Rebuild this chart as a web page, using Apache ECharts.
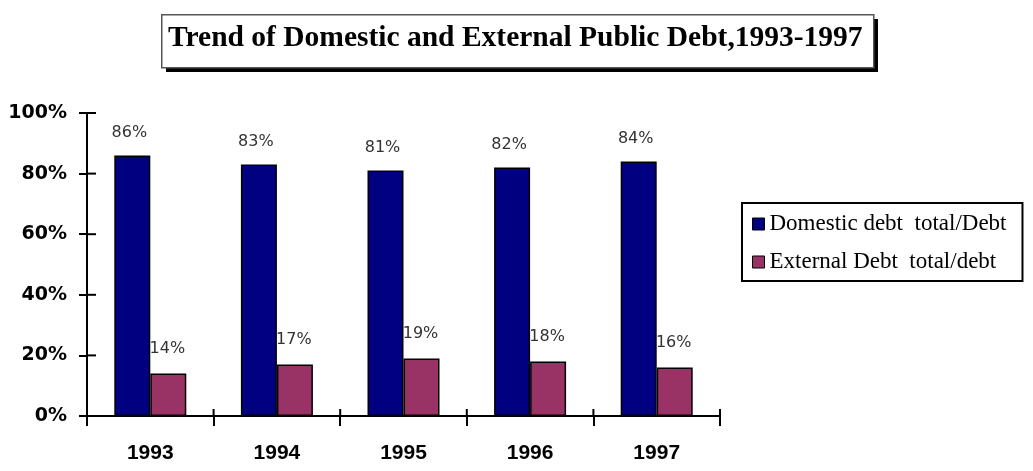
<!DOCTYPE html>
<html>
<head>
<meta charset="utf-8">
<style>
  html, body { margin: 0; padding: 0; background: #fff; }
  #chart { width: 1033px; height: 471px; }
</style>
<script src="https://cdn.jsdelivr.net/npm/echarts@6/dist/echarts.min.js"></script>
</head>
<body>
<div id="chart"></div>
<script>
// Share of public debt, 1993-1997
const years = ['1993', '1994', '1995', '1996', '1997'];
const domesticShare = [86, 83, 81, 82, 84];
const externalShare = [14, 17, 19, 18, 16];
const seriesNames = ['Domestic debt  total/Debt', 'External Debt  total/debt'];
const titleText = 'Trend of Domestic and External Public Debt,1993-1997';
const yTickValues = [0, 20, 40, 60, 80, 100];

const chart = echarts.init(document.getElementById('chart'), null, { renderer: 'canvas' });

const labelFont = { fontFamily: 'DejaVu Sans, sans-serif', fontSize: 16, color: '#333' };
const axisStroke = { color: '#000', width: 2 };

const titleGraphics = [
  // boxed title with a hard drop shadow
  { id: 'titleShadow', type: 'rect', left: 166, top: 19, shape: { width: 712, height: 53 }, style: { fill: '#000' }, z: 10 },
  { id: 'titleBox', type: 'rect', left: 161, top: 14, shape: { width: 712, height: 53 }, style: { fill: '#fff', stroke: '#555', lineWidth: 1.5 }, z: 11 },
  {
    id: 'titleText', type: 'text', left: 168, top: 23, z: 12,
    style: {
      text: titleText,
      fill: '#000',
      font: 'bold 29.5px "Liberation Serif", "Times New Roman", serif'
    }
  }
];

const option = {
  animation: false,
  backgroundColor: '#ffffff',
  graphic: titleGraphics,
  legend: {
    orient: 'vertical',
    left: 742,
    top: 203,
    padding: [8, 16, 6, 10],
    borderColor: '#000',
    borderWidth: 2,
    itemWidth: 12,
    itemHeight: 12,
    itemGap: 12,
    icon: 'rect',
    itemStyle: { borderColor: '#000', borderWidth: 1 },
    textStyle: { fontFamily: 'Liberation Serif, Times New Roman, serif', fontSize: 23, color: '#000', lineHeight: 26 },
    data: seriesNames
  },
  grid: { left: 87, right: 313, top: 113, bottom: 55 },
  xAxis: {
    type: 'category',
    data: years,
    axisLine: { lineStyle: axisStroke },
    axisTick: { show: true, length: 10, lineStyle: axisStroke },
    axisLabel: { margin: 27, color: '#000', fontFamily: 'Liberation Sans Narrow, Liberation Sans, sans-serif', fontWeight: 'bold', fontSize: 21 }
  },
  yAxis: {
    type: 'value',
    min: 0, max: 100, interval: 20,
    splitLine: { show: false },
    axisLine: { show: true, lineStyle: axisStroke },
    axisTick: { show: true, length: 8, lineStyle: axisStroke },
    axisLabel: { formatter: '{value}%', margin: 20, color: '#000', fontFamily: 'DejaVu Sans, sans-serif', fontWeight: 'bold', fontSize: 19 }
  },
  series: [
    {
      name: seriesNames[0],
      type: 'bar',
      data: domesticShare,
      barWidth: 36,
      barGap: '0%',
      itemStyle: { color: '#000080', borderColor: '#000', borderWidth: 1.5 },
      label: Object.assign({ show: true, position: 'top', distance: 15, offset: [-3, 0], formatter: '{c}%' }, labelFont)
    },
    {
      name: seriesNames[1],
      type: 'bar',
      data: externalShare,
      barWidth: 36,
      barGap: '0%',
      itemStyle: { color: '#993366', borderColor: '#000', borderWidth: 1.5 },
      label: Object.assign({ show: true, position: 'top', distance: 17, offset: [-1, 0], formatter: '{c}%' }, labelFont)
    }
  ]
};

chart.setOption(option);

// inner half of every axis tick, placed through the chart's own scales
const p0 = chart.convertToPixel({ gridIndex: 0 }, [0, 0]);
const p1 = chart.convertToPixel({ gridIndex: 0 }, [1, 0]);
const bandW = p1[0] - p0[0];
const axisX = p0[0] - bandW / 2;
const axisY = p0[1];
const tickLines = [];
yTickValues.forEach(function (v) {
  const y = chart.convertToPixel({ gridIndex: 0 }, [0, v])[1];
  tickLines.push({
    id: 'yTick' + v, type: 'line', z: 20, silent: true,
    shape: { x1: axisX, y1: y, x2: axisX + 9, y2: y },
    style: { stroke: '#000', lineWidth: 2 }
  });
});
for (let i = 0; i <= years.length; i++) {
  const x = axisX + i * bandW;
  tickLines.push({
    id: 'xTick' + i, type: 'line', z: 20, silent: true,
    shape: { x1: x, y1: axisY, x2: x, y2: axisY - 7 },
    style: { stroke: '#000', lineWidth: 2 }
  });
}
chart.setOption({ graphic: titleGraphics.concat(tickLines) });
</script>
</body>
</html>
